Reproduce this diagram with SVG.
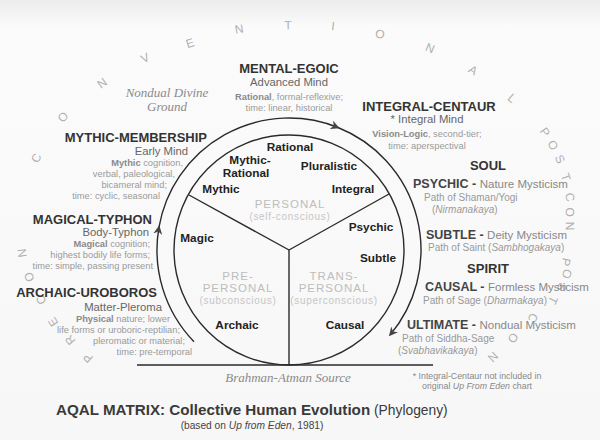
<svg xmlns="http://www.w3.org/2000/svg" width="600" height="440" viewBox="0 0 600 440">
<defs>
<linearGradient id="bg" x1="0" y1="0" x2="0" y2="1">
<stop offset="0" stop-color="#ececec"/>
<stop offset="0.06" stop-color="#fbfbfb"/>
<stop offset="1" stop-color="#f7f7f7"/>
</linearGradient>
<marker id="ah" viewBox="0 0 10 10" refX="8" refY="5" markerWidth="9" markerHeight="9" markerUnits="userSpaceOnUse" orient="auto">
<path d="M0,0 L10,5 L0,10 L3,5 Z" fill="#444"/>
</marker>
<style>
text{font-family:"Liberation Sans",Arial,sans-serif}
.h{font-weight:bold;font-size:13px;fill:#333}
.sub{font-size:11.3px;fill:#666}
.d{font-size:9.3px;fill:#9a9a9a}
.b{font-weight:bold;fill:#8a8a8a}
.in{font-weight:bold;font-size:11.8px;fill:#222;text-anchor:middle}
.zone{font-size:11.5px;fill:#bdbdbd;letter-spacing:1px;text-anchor:middle}
.zs{font-size:10px;fill:#c6c6c6;letter-spacing:0.7px;text-anchor:middle}
.arc{font-size:12px;fill:#b0b0b0;text-anchor:middle}
.ser{font-family:"Liberation Serif","Times New Roman",serif;font-style:italic;font-size:13px;fill:#8a8a8a;text-anchor:middle}
.rh{font-weight:bold;font-size:12.5px;fill:#444}
.rr{font-weight:normal;font-size:11.5px;fill:#888}
.rp{font-size:10px;fill:#999}
.it{font-style:italic}
.mid{text-anchor:middle}
.end{text-anchor:end}
.ln{fill:none;stroke:#2a2a2a;stroke-width:1.4}
</style>
</defs>
<rect width="600" height="440" fill="url(#bg)"/>

<g id="connectors">
<circle class="ln" cx="289" cy="250" r="115"/>
<line class="ln" x1="289" y1="250" x2="289" y2="365"/>
<line class="ln" x1="289" y1="250" x2="189" y2="195"/>
<line class="ln" x1="289" y1="250" x2="389" y2="194"/>
<line class="ln" x1="137" y1="365" x2="433" y2="365"/>
<path class="ln" stroke-width="1.2" d="M194,341.7 A132,132 0 0 1 159,227.1" marker-end="url(#ah)"/>
<path class="ln" stroke-width="1.2" d="M159,227.1 A132,132 0 0 1 338,127.5" marker-end="url(#ah)"/>
<path class="ln" stroke-width="1.2" d="M338,127.5 A132,132 0 0 1 390.1,334.9" marker-end="url(#ah)"/>
</g>

<g id="arc-labels">
<text class="arc" transform="translate(88,358) rotate(-138)" y="4.2">P</text>
<text class="arc" transform="translate(70,340) rotate(-131)" y="4.2">R</text>
<text class="arc" transform="translate(53,322) rotate(-124)" y="4.2">E</text>
<text class="arc" transform="translate(41,300) rotate(-116)" y="4.2">C</text>
<text class="arc" transform="translate(29,277) rotate(-107)" y="4.2">O</text>
<text class="arc" transform="translate(22,253) rotate(-98)" y="4.2">N</text>
<text class="arc" transform="translate(36,158) rotate(-64)" y="4.2">C</text>
<text class="arc" transform="translate(63,117) rotate(-49)" y="4.2">O</text>
<text class="arc" transform="translate(102,83) rotate(-36)" y="4.2">N</text>
<text class="arc" transform="translate(145,58) rotate(-26)" y="4.2">V</text>
<text class="arc" transform="translate(190,43) rotate(-18)" y="4.2">E</text>
<text class="arc" transform="translate(239,29) rotate(-9)" y="4.2">N</text>
<text class="arc" transform="translate(288,25) rotate(-1)" y="4.2">T</text>
<text class="arc" transform="translate(333,26) rotate(6)" y="4.2">I</text>
<text class="arc" transform="translate(380,34) rotate(13)" y="4.2">O</text>
<text class="arc" transform="translate(430,48) rotate(22)" y="4.2">N</text>
<text class="arc" transform="translate(473,70) rotate(32)" y="4.2">A</text>
<text class="arc" transform="translate(512,98) rotate(42)" y="4.2">L</text>
<text class="arc" transform="translate(545,132) rotate(55)" y="4.2">P</text>
<text class="arc" transform="translate(553,145) rotate(59)" y="4.2">O</text>
<text class="arc" transform="translate(560,159) rotate(64)" y="4.2">S</text>
<text class="arc" transform="translate(566,177) rotate(71)" y="4.2">T</text>
<text class="arc" transform="translate(570,197) rotate(78)" y="4.2">C</text>
<text class="arc" transform="translate(570,212) rotate(83)" y="4.2">O</text>
<text class="arc" transform="translate(570,226) rotate(89)" y="4.2">N</text>
<text class="arc" transform="translate(566,262) rotate(102)" y="4.2">P</text>
<text class="arc" transform="translate(567,274) rotate(106)" y="4.2">O</text>
<text class="arc" transform="translate(562,287) rotate(111)" y="4.2">S</text>
<text class="arc" transform="translate(553,300) rotate(115)" y="4.2">T</text>
<text class="arc" transform="translate(533,318) rotate(122)" y="4.2">C</text>
<text class="arc" transform="translate(513,338) rotate(129)" y="4.2">O</text>
<text class="arc" transform="translate(493,357) rotate(136)" y="4.2">N</text>
</g>

<g id="nondual-ground">
<text class="ser" x="167" y="97">Nondual Divine</text>
<text class="ser" x="167" y="111">Ground</text>
</g>

<g id="mental-egoic">
<text class="h mid" x="289" y="73">MENTAL-EGOIC</text>
<text class="sub mid" x="289" y="86">Advanced Mind</text>
<text class="d mid" x="289" y="100"><tspan class="b">Rational</tspan>, formal-reflexive;</text>
<text class="d mid" x="289" y="111">time: linear, historical</text>
</g>

<g id="integral-centaur">
<text class="h mid" x="429" y="111">INTEGRAL-CENTAUR</text>
<text class="sub mid" x="427" y="123">* Integral Mind</text>
<text class="d mid" x="427" y="137"><tspan class="b">Vision-Logic</tspan>, second-tier;</text>
<text class="d mid" x="427" y="149">time: aperspectival</text>
</g>

<g id="mythic-membership">
<text class="h end" x="207" y="142">MYTHIC-MEMBERSHIP</text>
<text class="sub end" x="188" y="155">Early Mind</text>
<text class="d end" x="183" y="166"><tspan class="b">Mythic</tspan> cognition,</text>
<text class="d end" x="175" y="177">verbal, paleological,</text>
<text class="d end" x="167" y="188">bicameral mind;</text>
<text class="d end" x="160" y="199">time: cyclic, seasonal</text>
</g>

<g id="magical-typhon">
<text class="h end" x="152" y="224">MAGICAL-TYPHON</text>
<text class="sub end" x="149" y="236">Body-Typhon</text>
<text class="d end" x="150" y="247"><tspan class="b">Magical</tspan> cognition;</text>
<text class="d end" x="150" y="258">highest bodily life forms;</text>
<text class="d end" x="153" y="269">time: simple, passing present</text>
</g>

<g id="archaic-uroboros">
<text class="h end" x="157" y="297">ARCHAIC-UROBOROS</text>
<text class="sub end" x="162" y="311">Matter-Pleroma</text>
<text class="d end" x="170" y="322"><tspan class="b">Physical</tspan> nature; lower</text>
<text class="d end" x="180" y="333">life forms or uroboric-reptilian;</text>
<text class="d end" x="185" y="344">pleromatic or material;</text>
<text class="d end" x="192" y="355">time: pre-temporal</text>
</g>

<g id="inner-stages">
<text class="in" x="290" y="151">Rational</text>
<text class="in" x="250" y="164">Mythic-</text>
<text class="in" x="246" y="177">Rational</text>
<text class="in" x="329" y="170">Pluralistic</text>
<text class="in" x="221" y="193">Mythic</text>
<text class="in" x="353" y="193">Integral</text>
<text class="in" x="371" y="231">Psychic</text>
<text class="in" x="197" y="242">Magic</text>
<text class="in" x="378" y="262">Subtle</text>
<text class="in" x="237" y="329">Archaic</text>
<text class="in" x="345" y="329">Causal</text>
</g>

<g id="personal">
<text class="zone" x="290" y="208">PERSONAL</text>
<text class="zs" x="290" y="220">(self-conscious)</text>
</g>
<g id="pre-personal">
<text class="zone" x="238" y="280">PRE-</text>
<text class="zone" x="238" y="292">PERSONAL</text>
<text class="zs" x="238" y="304">(subconscious)</text>
</g>
<g id="trans-personal">
<text class="zone" x="334" y="280">TRANS-</text>
<text class="zone" x="334" y="292">PERSONAL</text>
<text class="zs" x="334" y="304">(superconscious)</text>
</g>

<g id="soul">
<text class="h mid" x="488" y="170">SOUL</text>
<text class="rh" x="413" y="188">PSYCHIC - <tspan class="rr">Nature Mysticism</tspan></text>
<text class="rp" x="424" y="201">Path of Shaman/Yogi</text>
<text class="rp" x="432" y="213">(<tspan class="it">Nirmanakaya</tspan>)</text>
<text class="rh" x="426" y="239">SUBTLE - <tspan class="rr">Deity Mysticism</tspan></text>
<text class="rp" x="428" y="251">Path of Saint (<tspan class="it">Sambhogakaya</tspan>)</text>
</g>

<g id="spirit">
<text class="h mid" x="488" y="273">SPIRIT</text>
<text class="rh" x="425" y="291">CAUSAL - <tspan class="rr">Formless Mysticism</tspan></text>
<text class="rp" x="423" y="304">Path of Sage (<tspan class="it">Dharmakaya</tspan>)</text>
<text class="rh" x="407" y="329">ULTIMATE - <tspan class="rr">Nondual Mysticism</tspan></text>
<text class="rp" x="402" y="342">Path of Siddha-Sage</text>
<text class="rp" x="398" y="354">(<tspan class="it">Svabhavikakaya</tspan>)</text>
</g>

<g id="footnote">
<text class="mid" x="477" y="379" font-size="8.8" fill="#888">* Integral-Centaur not included in</text>
<text class="mid" x="477" y="389" font-size="8.8" fill="#888">original <tspan class="it">Up From Eden</tspan> chart</text>
</g>

<g id="source">
<text class="ser" x="288" y="382">Brahman-Atman Source</text>
</g>

<g id="title">
<text x="56" y="415" font-size="15.2" font-weight="bold" fill="#3a3a3a">AQAL MATRIX: Collective Human Evolution<tspan font-weight="normal" font-size="13.8"> (Phylogeny)</tspan></text>
<text class="mid" x="252" y="429" font-size="10.2" fill="#444">(based on <tspan class="it">Up from Eden</tspan>, 1981)</text>
</g>
</svg>
